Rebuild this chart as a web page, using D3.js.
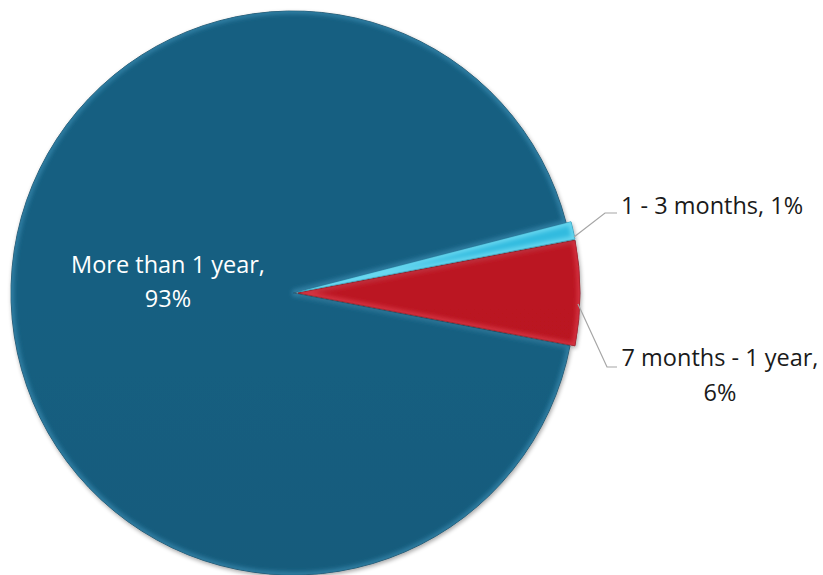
<!DOCTYPE html>
<html>
<head>
<meta charset="utf-8">
<script src="https://cdn.jsdelivr.net/npm/d3@7"></script>
<style>
  html, body { margin: 0; padding: 0; background: #ffffff; }
  svg { display: block; }
  text { font-family: "Open Sans", "Noto Sans", sans-serif; }
</style>
</head>
<body>
<svg id="chart" width="823" height="575"></svg>
<script>
// Share of respondents by duration
const categories = ["1 - 3 months", "7 months - 1 year", "More than 1 year"];
const values = [1, 6, 93];
const baseColors = ["#2fb3d6", "#b3121f", "#145b7c"];
const lightColors = ["#7fe3f7", "#e0404e", "#3b8db3"];
const darkColors = ["#1d88a8", "#7e0a14", "#0b3f58"];

const W = 823, H = 575;
const cx = 293, cy = 293, R = 282;
const explode = [5, 5, 0];

const svg = d3.select("#chart");
const defs = svg.append("defs");

// Vertical shading per slice
categories.forEach((c, i) => {
  const g = defs.append("linearGradient")
    .attr("id", "grad" + i)
    .attr("gradientUnits", "userSpaceOnUse")
    .attr("x1", 0).attr("y1", cy - R).attr("x2", 0).attr("y2", cy + R);
  g.append("stop").attr("offset", "0%").attr("stop-color", d3.color(baseColors[i]).brighter(0.12));
  g.append("stop").attr("offset", "50%").attr("stop-color", baseColors[i]);
  g.append("stop").attr("offset", "100%").attr("stop-color", d3.color(baseColors[i]).darker(0.45));
});

const blurF = defs.append("filter").attr("id", "soft")
  .attr("x", "-10%").attr("y", "-10%").attr("width", "120%").attr("height", "120%");
blurF.append("feGaussianBlur").attr("stdDeviation", 2.2);

const shadowF = defs.append("filter").attr("id", "shadow")
  .attr("x", "-10%").attr("y", "-10%").attr("width", "120%").attr("height", "120%");
shadowF.append("feGaussianBlur").attr("in", "SourceAlpha").attr("stdDeviation", 2).attr("result", "b");
shadowF.append("feOffset").attr("in", "b").attr("dx", 1).attr("dy", 2).attr("result", "o");
shadowF.append("feComponentTransfer").attr("in", "o").attr("result", "s")
  .append("feFuncA").attr("type", "linear").attr("slope", 0.35);
const m = shadowF.append("feMerge");
m.append("feMergeNode").attr("in", "s");
m.append("feMergeNode").attr("in", "SourceGraphic");

const startDeg = 90 - (values[0] + values[1] / 2) * 3.6;
const pie = d3.pie().sort(null).value(d => d)
  .startAngle(startDeg * Math.PI / 180)
  .endAngle(startDeg * Math.PI / 180 + 2 * Math.PI);
const arcs = pie(values);
const arc = d3.arc().innerRadius(0).outerRadius(R);

const offset = (d, i) => {
  const a = (d.startAngle + d.endAngle) / 2;
  return [Math.sin(a) * explode[i], -Math.cos(a) * explode[i]];
};

const root = svg.append("g").attr("transform", `translate(${cx},${cy})`);

// Draw largest slice first so the small wedges sit on top
const order = [2, 1, 0];
order.forEach(i => {
  const d = arcs[i];
  const [ox, oy] = offset(d, i);
  const g = root.append("g").attr("transform", `translate(${ox},${oy})`).attr("filter", "url(#shadow)");
  defs.append("clipPath").attr("id", "clip" + i)
    .append("path").attr("d", arc(d)).attr("transform", `translate(${cx + ox},${cy + oy})`);
  g.append("path").attr("d", arc(d)).attr("fill", `url(#grad${i})`)
    .attr("stroke", darkColors[i]).attr("stroke-width", 0.8);
  // bevel highlight along the edges
  svg.append("g").attr("clip-path", `url(#clip${i})`)
    .append("path").attr("d", arc(d))
    .attr("transform", `translate(${cx + ox},${cy + oy})`)
    .attr("fill", "none").attr("stroke", lightColors[i])
    .attr("stroke-width", 6).attr("stroke-opacity", 0.7)
    .attr("filter", "url(#soft)");
});

// Leader lines and outside labels
const lineColor = "#a6a6a6";
const fs = 23.5;
function leader(pts) {
  svg.append("path").attr("d", d3.line()(pts))
    .attr("fill", "none").attr("stroke", lineColor).attr("stroke-width", 1.2);
}
leader([[574, 237], [605, 213], [617, 213]]);
leader([[578, 304], [607, 367], [617, 367]]);

svg.append("text").attr("x", 621).attr("y", 214).attr("font-size", fs).attr("fill", "#1a1a1a")
  .text(`${categories[0]}, ${values[0]}%`);
const t2 = svg.append("text").attr("text-anchor", "middle").attr("font-size", fs).attr("fill", "#1a1a1a");
t2.append("tspan").attr("x", 720).attr("y", 366).text(`${categories[1]},`);
t2.append("tspan").attr("x", 720).attr("y", 401).text(`${values[1]}%`);

const t3 = svg.append("text").attr("text-anchor", "middle").attr("font-size", fs).attr("fill", "#ffffff");
t3.append("tspan").attr("x", 168).attr("y", 273).text(`${categories[2]},`);
t3.append("tspan").attr("x", 168).attr("y", 307).text(`${values[2]}%`);
</script>
</body>
</html>
